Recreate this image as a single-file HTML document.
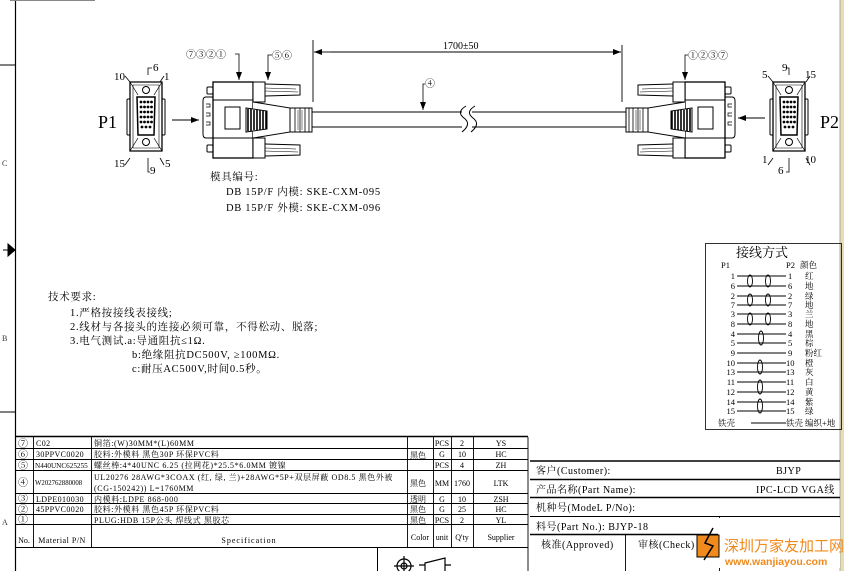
<!DOCTYPE html>
<html><head><meta charset="utf-8"><style>
html,body{margin:0;padding:0;background:#fff;}
svg{display:block;font-family:"Liberation Serif","Noto Serif CJK SC",serif;}
</style></head><body>
<svg width="844" height="571" viewBox="0 0 844 571" xmlns="http://www.w3.org/2000/svg">
<defs>
<marker id="ar" markerWidth="8" markerHeight="6" refX="8" refY="3" orient="auto" markerUnits="userSpaceOnUse"><path d="M0,0 L8,3 L0,6 z" fill="#000"/></marker>
<g id="front" stroke="#000" fill="none" stroke-width="1">
<path d="M0,7 L32,7 L32,76 L0,76 Z" stroke-width="1.3"/>
<path d="M3,10 L29,10 L29,73 L3,73 Z" stroke-width="0.6"/>
<path d="M0,7 L8,20 M32,7 L24,20 M0,76 L8,63 M32,76 L24,63" stroke-width="0.7"/>
<rect x="-3" y="24" width="3" height="36" rx="1"/>
<rect x="32" y="24" width="3" height="36" rx="1"/>
<path d="M7,22 L25,22 L24,60 L8,60 Z" stroke-width="1.5" fill="#fff"/>
<g fill="#000" stroke="none">
<circle cx="11" cy="27" r="1.4"/><circle cx="14.5" cy="27" r="1.4"/><circle cx="18" cy="27" r="1.4"/><circle cx="21.5" cy="27" r="1.4"/>
<circle cx="11" cy="32" r="1.4"/><circle cx="14.5" cy="32" r="1.4"/><circle cx="18" cy="32" r="1.4"/><circle cx="21.5" cy="32" r="1.4"/>
<circle cx="11" cy="37" r="1.4"/><circle cx="14.5" cy="37" r="1.4"/><circle cx="18" cy="37" r="1.4"/><circle cx="21.5" cy="37" r="1.4"/>
<circle cx="11" cy="42" r="1.4"/><circle cx="14.5" cy="42" r="1.4"/><circle cx="18" cy="42" r="1.4"/><circle cx="21.5" cy="42" r="1.4"/>
<circle cx="11" cy="47" r="1.4"/><circle cx="14.5" cy="47" r="1.4"/><circle cx="18" cy="47" r="1.4"/><circle cx="21.5" cy="47" r="1.4"/>
<circle cx="12" cy="52" r="1.4"/><circle cx="16" cy="52" r="1.4"/><circle cx="20" cy="52" r="1.4"/>
</g>
<circle cx="16" cy="15" r="3.5" fill="#fff"/>
<circle cx="16" cy="67" r="3.5" fill="#fff"/>
</g>
<g id="side" stroke="#000" fill="#fff" stroke-width="1">
<rect x="207" y="87" width="6" height="7" rx="1"/>
<rect x="207" y="145" width="6" height="7" rx="1"/>
<path d="M213,97 L206,97 Q203,97 203,101 L203,134 Q203,138 206,138 L213,138" />
<path d="M206,104 h4 v3 h-4 M206,113 h4 v3 h-4 M206,122 h4 v3 h-4" fill="none" stroke-width="0.7"/>
<rect x="213" y="82" width="40" height="76" stroke-width="1.3"/>
<line x1="213" y1="100" x2="253" y2="100"/><line x1="213" y1="138" x2="253" y2="138"/>
<rect x="253" y="82" width="12" height="20"/><rect x="253" y="138" width="12" height="20"/>
<path d="M265,84 L300,85 L300,95 L265,96" fill="none"/>
<path d="M265,88 L296,89 M265,91 L298,92" fill="none" stroke-width="0.6"/>
<path d="M265,144 L300,145 L300,155 L265,156" fill="none"/>
<path d="M265,148 L296,149 M265,151 L298,152" fill="none" stroke-width="0.6"/>
<path d="M253,102 L290,108 L290,132 L253,138" />
<rect x="225" y="107" width="15" height="22" fill="#fff"/>
<path d="M246,108 L267,111 L267,129 L246,132 Z" fill="#fff"/>
<path d="M248,109 v22 M251,109 v22 M254,110 v20 M257,110 v20 M260,110 v20 M263,111 v18 M266,111 v18" stroke-width="1.6"/>
<rect x="290" y="108" width="22" height="24" fill="#fff"/>
<path d="M295,108 v24 M300,108 v24 M305,108 v24 M309,108 v24" stroke-width="0.8"/>
<path d="M298,110 v20 M302,110 v20" stroke-width="0.5"/>
</g>
</defs>

<line x1="15.5" y1="0" x2="15.5" y2="571" stroke="#000" stroke-width="1.2"/>
<line x1="10" y1="0.5" x2="95" y2="0.5" stroke="#888" stroke-width="1"/>
<line x1="0" y1="65" x2="15" y2="65" stroke="#000"/>
<line x1="0" y1="412" x2="15" y2="412" stroke="#000"/>
<path d="M3,250 L10,250 M8,244 L15,250 L8,256 Z" stroke="#000" fill="#000"/>
<rect x="840" y="0" width="4" height="571" fill="#e6deae"/>
<line x1="840" y1="0" x2="840" y2="571" stroke="#aaa"/>
<g font-size="8" fill="#333"><text x="2" y="166">C</text><text x="2" y="341">B</text><text x="2" y="525">A</text></g>

<use href="#front" x="130" y="75"/>
<use href="#front" x="773" y="75"/>
<g font-size="11" fill="#000">
<text x="98" y="128" font-size="18">P1</text>
<text x="114" y="80">10</text><text x="153" y="71">6</text><text x="164" y="80">1</text>
<text x="114" y="167">15</text><text x="150" y="174">9</text><text x="165" y="167">5</text>
<text x="820" y="128" font-size="18">P2</text>
<text x="762" y="78">5</text><text x="782" y="71">9</text><text x="805" y="78">15</text>
<text x="762" y="163">1</text><text x="778" y="174">6</text><text x="805" y="163">10</text>
</g>
<g stroke="#000" stroke-width="0.8" fill="none">
<path d="M148,75 L148,68 L152,68"/><path d="M148,158 L148,172 L150,172"/>
<path d="M125,76 L130,82 M160,82 L164,76 M125,165 L130,158 M160,158 L164,165"/>
<path d="M789,75 L789,68 L786,68"/><path d="M789,158 L789,172 L786,172"/>
<path d="M768,76 L773,82 M806,82 L810,76 M768,165 L773,158 M806,158 L810,165"/>
</g>
<line x1="172" y1="120" x2="199" y2="120" stroke="#000" marker-end="url(#ar)"/>
<line x1="765" y1="118" x2="738" y2="118" stroke="#000" marker-end="url(#ar)"/>

<use href="#side"/>
<g transform="translate(938,0) scale(-1,1)"><use href="#side"/></g>

<g stroke="#000" stroke-width="1" fill="none">
<line x1="312" y1="112" x2="462" y2="112"/><line x1="312" y1="127" x2="462" y2="127"/>
<line x1="472" y1="112" x2="626" y2="112"/><line x1="472" y1="127" x2="626" y2="127"/>
<path d="M466,106 Q456,112 464,118 Q472,124 462,132"/>
<path d="M475,106 Q465,112 473,118 Q481,124 471,132"/>
</g>
<g stroke="#000" stroke-width="0.9">
<line x1="313" y1="40" x2="313" y2="102"/><line x1="622" y1="45" x2="622" y2="102"/>
<line x1="330" y1="52" x2="314" y2="52" marker-end="url(#ar)"/>
<line x1="330" y1="52" x2="621" y2="52" marker-end="url(#ar)"/>
</g>
<text x="443" y="49" font-size="10">1700±50</text>

<g font-size="10" fill="#000">
<text x="186" y="58">⑦③②①</text>
<text x="272" y="59">⑤⑥</text>
<text x="425" y="87">④</text>
<text x="688" y="59">①②③⑦</text>
</g>
<g stroke="#000" stroke-width="0.8" fill="none">
<path d="M235,54 L239,54 L239,80" marker-end="url(#ar)"/>
<path d="M272,55 L268,55 L268,80" marker-end="url(#ar)"/>
<path d="M425,84 L423,84 L423,110" marker-end="url(#ar)"/>
<path d="M688,55 L685,55 L685,80" marker-end="url(#ar)"/>
</g>

<g font-size="10.5" fill="#000" letter-spacing="0.7">
<text x="210" y="180">模具编号:</text>
<text x="226" y="195">DB 15P/F 内模: SKE-CXM-095</text>
<text x="226" y="211">DB 15P/F 外模: SKE-CXM-096</text>
<text x="48" y="300">技术要求:</text>
<text x="70" y="316">1.严格按接线表接线;</text>
<text x="70" y="330">2.线材与各接头的连接必须可靠，不得松动、脱落;</text>
<text x="70" y="344">3.电气测试.a:导通阻抗≤1Ω.</text>
<text x="132" y="358">b:绝缘阻抗DC500V, ≥100MΩ.</text>
<text x="132" y="372">c:耐压AC500V,时间0.5秒。</text>
</g>

<rect x="705.5" y="243.5" width="136" height="186" fill="none" stroke="#000" stroke-width="0.8"/>
<text x="736" y="257" font-size="13">接线方式</text>
<g font-size="8.5" fill="#000">
<text x="721" y="268">P1</text><text x="786" y="268">P2</text><text x="800" y="268">颜色</text>
</g>
<g font-size="8.5" fill="#000" stroke="none">
<g text-anchor="end">
<text x="735" y="279">1</text><text x="735" y="289">6</text><text x="735" y="299">2</text><text x="735" y="308">7</text>
<text x="735" y="317">3</text><text x="735" y="327">8</text><text x="735" y="337">4</text><text x="735" y="346">5</text>
<text x="735" y="356">9</text><text x="735" y="366">10</text><text x="735" y="375">13</text><text x="735" y="385">11</text>
<text x="735" y="395">12</text><text x="735" y="405">14</text><text x="735" y="414">15</text><text x="735" y="426">铁壳</text>
</g>
<text x="788" y="279">1</text><text x="788" y="289">6</text><text x="788" y="299">2</text><text x="788" y="308">7</text>
<text x="788" y="317">3</text><text x="788" y="327">8</text><text x="788" y="337">4</text><text x="788" y="346">5</text>
<text x="788" y="356">9</text><text x="786" y="366">10</text><text x="786" y="375">13</text><text x="786" y="385">11</text>
<text x="786" y="395">12</text><text x="786" y="405">14</text><text x="786" y="414">15</text><text x="786" y="426">铁壳</text>
<text x="805" y="279">红</text><text x="805" y="289">地</text><text x="805" y="299">绿</text><text x="805" y="308">地</text>
<text x="805" y="317">兰</text><text x="805" y="327">地</text><text x="805" y="337">黑</text><text x="805" y="346">棕</text>
<text x="805" y="356">粉红</text><text x="805" y="366">橙</text><text x="805" y="375">灰</text><text x="805" y="385">白</text>
<text x="805" y="395">黄</text><text x="805" y="405">紫</text><text x="805" y="414">绿</text><text x="805" y="426">编织+地</text>
</g>
<g stroke="#000" stroke-width="0.9" fill="none">
<path d="M737,276h49M737,286h49M737,296h49M737,305h49M737,314h49M737,324h49M737,334h49M737,343h49M737,353h49M737,363h49M737,372h49M737,382h49M737,392h49M737,402h49M737,411h49M751,423h35"/>
<ellipse cx="750" cy="281" rx="2.5" ry="6"/><ellipse cx="768" cy="281" rx="2.5" ry="6"/>
<ellipse cx="750" cy="300" rx="2.5" ry="6"/><ellipse cx="768" cy="300" rx="2.5" ry="6"/>
<ellipse cx="750" cy="319" rx="2.5" ry="6"/><ellipse cx="768" cy="319" rx="2.5" ry="6"/>
<ellipse cx="761" cy="338" rx="2.5" ry="7"/><ellipse cx="760" cy="367" rx="2.5" ry="7"/>
<ellipse cx="760" cy="387" rx="2.5" ry="7"/><ellipse cx="760" cy="406" rx="2.5" ry="7"/>
</g>

<g stroke="#000" fill="none">
<line x1="15" y1="436.5" x2="528" y2="436.5" stroke-width="1.5"/>
<path d="M15,448.5H528M15,459.5H528M15,470.5H528M15,493.5H528M15,503.5H528M15,514.5H528M15,524.5H528M15,547.5H528" stroke-width="0.9"/>
<path d="M33.5,437V547M91.5,437V547M407.5,437V547M433.5,437V547M451.5,437V547M473.5,437V547M528,437V571" stroke-width="0.9"/>
<line x1="377.5" y1="547" x2="377.5" y2="571"/>
</g>
<g font-size="8" fill="#000">
<g font-size="10"><text x="18" y="447">⑦</text><text x="18" y="458">⑥</text><text x="18" y="469">⑤</text><text x="18" y="486">④</text><text x="18" y="502">③</text><text x="18" y="513">②</text><text x="18" y="523">①</text></g>
<g letter-spacing="0.4">
<text x="36" y="446">C02</text><text x="36" y="457">30PPVC0020</text><text x="35" y="468" font-size="7.2" letter-spacing="0">N440UNC625255</text>
<text x="35" y="485" font-size="6.8" letter-spacing="0">W202762880008</text><text x="36" y="502">LDPE010030</text><text x="36" y="512">45PPVC0020</text>
</g>
<g letter-spacing="0.6">
<text x="94" y="446">铜箔:(W)30MM*(L)60MM</text>
<text x="94" y="457">胶料:外模料 黑色30P 环保PVC料</text>
<text x="94" y="468">螺丝棒:4*40UNC  6.25 (拉网花)*25.5*6.0MM 镀镍</text>
<text x="94" y="480">UL20276 28AWG*3COAX (红, 绿, 兰)+28AWG*5P+双层屏蔽 OD8.5 黑色外被</text>
<text x="94" y="491">(CG-150242)) L=1760MM</text>
<text x="94" y="502">内模料:LDPE 868-000</text>
<text x="94" y="512">胶料:外模料 黑色45P 环保PVC料</text>
<text x="94" y="523">PLUG:HDB 15P公头 焊线式 黑胶芯</text>
</g>
<text x="410" y="458">黑色</text><text x="410" y="486">黑色</text><text x="410" y="502">透明</text><text x="410" y="512">黑色</text><text x="410" y="523">黑色</text>
<g text-anchor="middle">
<text x="442" y="446">PCS</text><text x="442" y="457">G</text><text x="442" y="468">PCS</text><text x="442" y="486">MM</text><text x="442" y="502">G</text><text x="442" y="512">G</text><text x="442" y="523">PCS</text>
<text x="462" y="446">2</text><text x="462" y="457">10</text><text x="462" y="468">4</text><text x="462" y="486">1760</text><text x="462" y="502">10</text><text x="462" y="512">25</text><text x="462" y="523">2</text>
<text x="501" y="446">YS</text><text x="501" y="457">HC</text><text x="501" y="468">ZH</text><text x="501" y="486">LTK</text><text x="501" y="502">ZSH</text><text x="501" y="512">HC</text><text x="501" y="523">YL</text>
<text x="24" y="543">No.</text><text x="62" y="543" letter-spacing="0.5">Material P/N</text><text x="249" y="543" letter-spacing="1">Specification</text>
<text x="420" y="540">Color</text><text x="442" y="540">unit</text><text x="462" y="540">Q'ty</text><text x="501" y="540">Supplier</text>
</g>
</g>
<g stroke="#000" fill="none" stroke-width="1.2">
<circle cx="404" cy="566" r="7"/><circle cx="404" cy="566" r="3"/><path d="M394,566h20M404,556v15"/>
<path d="M425,571v-8l20,-5v13M419,565h6M445,565h6"/>
</g>

<g stroke="#000" fill="none">
<path d="M530,461H840M530,479.5H840M530,497.5H840M530,534.5H840" stroke-width="1.5"/>
<path d="M530,516.5H840" stroke-width="0.9"/>
<path d="M719.5,516V571M625.5,534V571" stroke-width="0.9"/>
</g>
<g font-size="10" fill="#000" letter-spacing="0.5">
<text x="536" y="474">客户(Customer):</text><text x="776" y="474">BJYP</text>
<text x="536" y="493">产品名称(Part Name):</text><text x="756" y="493">IPC-LCD VGA线</text>
<text x="536" y="511">机种号(ModeL P/No):</text>
<text x="536" y="530">料号(Part No.):  BJYP-18</text>
<text x="541" y="548">核准(Approved)</text><text x="638" y="548">审核(Check)</text>
</g>
<rect x="718" y="518" width="122" height="50" fill="#fff"/>
<rect x="697" y="535" width="22" height="22" fill="#f08a1c" stroke="#000" stroke-width="1"/>
<path d="M713,528 L705,543 L713,546 L704,560" stroke="#000" stroke-width="1.5" fill="none"/>
<text x="724" y="551" font-family="'Noto Sans CJK SC',sans-serif" font-size="15" fill="#f08a1c">深圳万家友加工网</text>
<text x="725" y="565" font-family="'Liberation Sans',sans-serif" font-size="10.5" font-weight="bold" fill="#f08a1c">www.wanjiayou.com</text>
</svg>
</body></html>
